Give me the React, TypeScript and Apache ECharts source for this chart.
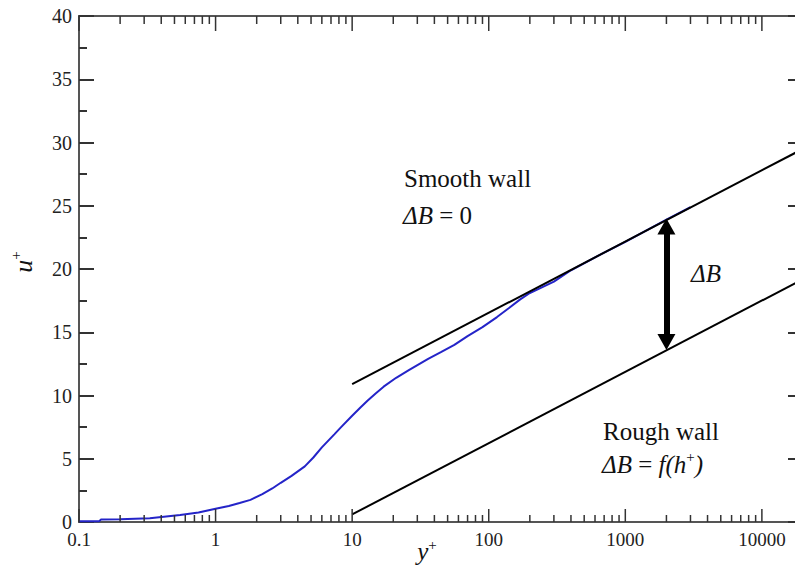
import React, { useEffect, useRef } from 'react';
import * as echarts from 'echarts';

const FONT = '"Liberation Serif", "Times New Roman", serif';

// DNS velocity profile (blue)
const profileYPlus = [0.1, 0.14, 0.145, 0.2, 0.33, 0.55, 0.75, 1, 1.25, 1.5, 1.8, 2.2, 2.6, 3, 3.6, 4.5, 5.2, 6, 7.4, 8.3, 10, 11.5, 13, 15, 17, 21, 26, 36, 45, 56, 70, 90, 115, 140, 170, 200, 300, 400, 700, 1000, 2000, 3000];
const profileUPlus = [0.05, 0.05, 0.2, 0.22, 0.3, 0.55, 0.75, 1.05, 1.27, 1.5, 1.75, 2.2, 2.65, 3.1, 3.65, 4.4, 5.1, 5.9, 6.93, 7.5, 8.4, 9.05, 9.6, 10.2, 10.7, 11.4, 12.0, 12.9, 13.45, 14.0, 14.7, 15.4, 16.2, 16.9, 17.6, 18.1, 19.0, 19.9, 21.3, 22.15, 23.9, 24.9];

// Log-law lines
const smoothWallX = [10, 20000];
const smoothWallU = [10.9, 29.5];
const roughWallX = [10, 20000];
const roughWallU = [0.6, 19.2];

// Delta-B arrow (tips)
const arrowX = 2000;
const arrowTipsU = [13.6, 24.0];

// Axis ticks
const xMajorTicks = [0.1, 1, 10, 100, 1000, 10000];
const xMajorLabels = ['0.1', '1', '10', '100', '1000', '10000'];
const xMinorMultipliers = [2, 3, 4, 5, 6, 7, 8, 9];

const GRID_LEFT = 79;
const GRID_TOP = 16;
const GRID_W = 724;
const GRID_H = 506;
const Y_MAX = 40;

export default function App() {
  const ref = useRef<HTMLDivElement>(null);

  useEffect(() => {
    if (!ref.current) return;
    const chart = echarts.init(ref.current, undefined, { renderer: 'svg' });

    const tickData: number[][] = [];
    xMajorTicks.forEach((t) => {
      tickData.push([t, 0, 1]);
      xMinorMultipliers.forEach((m) => {
        const v = t * m;
        if (v < 20000) tickData.push([v, 0, 0]);
      });
    });

    const pxPerUnit = GRID_H / Y_MAX;
    const headH = 16;
    const inset = headH / 2 / pxPerUnit;

    const yAxisCommon = {
      type: 'value',
      min: 0,
      max: Y_MAX,
      interval: 5,
      axisLine: { show: false },
      axisTick: { show: true, inside: true, length: 15, lineStyle: { color: '#333', width: 2 } },
      minorTick: { show: true, splitNumber: 2, length: 8, lineStyle: { color: '#333', width: 2 } },
      splitLine: { show: false },
      minorSplitLine: { show: false },
    };

    const supRich = { fontFamily: FONT, fontSize: 15, fill: '#111', lineHeight: 15, verticalAlign: 'top' };

    const option: any = {
      animation: false,
      backgroundColor: '#fff',
      grid: {
        left: GRID_LEFT,
        top: GRID_TOP,
        width: GRID_W,
        height: GRID_H,
        show: true,
        borderColor: '#555',
        borderWidth: 2,
        backgroundColor: 'transparent',
      },
      xAxis: [
        {
          type: 'log',
          logBase: 10,
          min: 0.1,
          max: 20000,
          axisLine: { show: false },
          axisTick: { show: false },
          splitLine: { show: false },
          axisLabel: {
            fontFamily: FONT,
            fontSize: 19,
            color: '#222',
            margin: 8,
            showMaxLabel: false,
            formatter: (v: number) => {
              for (let i = 0; i < xMajorTicks.length; i++) {
                if (Math.abs(Math.log10(v) - Math.log10(xMajorTicks[i])) < 1e-6) return xMajorLabels[i];
              }
              return '';
            },
          },
        },
      ],
      yAxis: [
        {
          ...yAxisCommon,
          position: 'left',
          axisLabel: { fontFamily: FONT, fontSize: 20, color: '#222', margin: 7 },
        },
        {
          ...yAxisCommon,
          position: 'right',
          axisLabel: { show: false },
        },
      ],
      series: [
        {
          type: 'custom',
          coordinateSystem: 'cartesian2d',
          xAxisIndex: 0,
          yAxisIndex: 0,
          silent: true,
          clip: false,
          z: 5,
          encode: { x: 0, y: 1 },
          data: tickData,
          renderItem: (params: any, api: any) => {
            const v = api.value(0);
            const major = api.value(2) === 1;
            const p = api.coord([v, 0]);
            const cs = params.coordSys;
            const bottom = cs.y + cs.height;
            const top = cs.y;
            const lenB = major ? 13 : 7;
            const lenT = major ? 15 : 8;
            const style = { stroke: '#333', lineWidth: 1.5 };
            return {
              type: 'group',
              children: [
                { type: 'line', shape: { x1: p[0], y1: bottom, x2: p[0], y2: bottom - lenB }, style },
                { type: 'line', shape: { x1: p[0], y1: top, x2: p[0], y2: top + lenT }, style },
              ],
            };
          },
        },
        {
          type: 'line',
          name: 'profile',
          data: profileYPlus.map((x, i) => [x, profileUPlus[i]]),
          showSymbol: false,
          smooth: false,
          lineStyle: { color: '#2424c8', width: 2 },
          itemStyle: { color: '#2424c8' },
          z: 2,
        },
        {
          type: 'line',
          name: 'smooth',
          data: smoothWallX.map((x, i) => [x, smoothWallU[i]]),
          showSymbol: false,
          lineStyle: { color: '#000', width: 2 },
          itemStyle: { color: '#000' },
          z: 3,
        },
        {
          type: 'line',
          name: 'rough',
          data: roughWallX.map((x, i) => [x, roughWallU[i]]),
          showSymbol: false,
          lineStyle: { color: '#000', width: 2 },
          itemStyle: { color: '#000' },
          z: 3,
          markLine: {
            silent: true,
            symbol: ['triangle', 'triangle'],
            symbolSize: [18, headH],
            label: { show: false },
            lineStyle: { color: '#000', width: 6, type: 'solid' },
            emphasis: { disabled: true },
            data: [
              [
                { coord: [arrowX, arrowTipsU[0] + inset] },
                { coord: [arrowX, arrowTipsU[1] - inset] },
              ],
            ],
          },
        },
      ],
      graphic: [
        {
          type: 'text',
          x: 404,
          y: 178,
          style: { text: 'Smooth wall', fontFamily: FONT, fontSize: 25, fill: '#111', align: 'left', verticalAlign: 'middle' },
        },
        {
          type: 'text',
          x: 403,
          y: 215,
          style: {
            text: '{i|ΔB} = 0',
            fontFamily: FONT,
            fontSize: 25,
            fill: '#111',
            align: 'left',
            verticalAlign: 'middle',
            rich: { i: { fontFamily: FONT, fontSize: 25, fontStyle: 'italic', fill: '#111' } },
          },
        },
        {
          type: 'text',
          x: 691,
          y: 273,
          style: { text: 'ΔB', fontFamily: FONT, fontSize: 25, fontStyle: 'italic', fill: '#111', align: 'left', verticalAlign: 'middle' },
        },
        {
          type: 'text',
          x: 603,
          y: 431,
          style: { text: 'Rough wall', fontFamily: FONT, fontSize: 25, fill: '#111', align: 'left', verticalAlign: 'middle' },
        },
        {
          type: 'text',
          x: 602,
          y: 464,
          style: {
            text: '{i|ΔB} = {i|f(h}{s|+}{i|)}',
            fontFamily: FONT,
            fontSize: 25,
            lineHeight: 30,
            fill: '#111',
            align: 'left',
            verticalAlign: 'middle',
            rich: {
              i: { fontFamily: FONT, fontSize: 25, fontStyle: 'italic', fill: '#111', lineHeight: 30 },
              s: supRich,
            },
          },
        },
        {
          type: 'text',
          x: 23,
          y: 262,
          rotation: Math.PI / 2,
          style: {
            text: '{i|u}{s|+}',
            fontFamily: FONT,
            fontSize: 26,
            lineHeight: 30,
            fill: '#111',
            align: 'center',
            verticalAlign: 'middle',
            rich: {
              i: { fontFamily: FONT, fontSize: 26, fontStyle: 'italic', fill: '#111', lineHeight: 30 },
              s: supRich,
            },
          },
        },
        {
          type: 'text',
          x: 427,
          y: 551,
          style: {
            text: '{i|y}{s|+}',
            fontFamily: FONT,
            fontSize: 25,
            lineHeight: 28,
            fill: '#111',
            align: 'center',
            verticalAlign: 'middle',
            rich: {
              i: { fontFamily: FONT, fontSize: 25, fontStyle: 'italic', fill: '#111', lineHeight: 28 },
              s: supRich,
            },
          },
        },
      ],
    };

    chart.setOption(option);
    return () => chart.dispose();
  }, []);

  return (
    <div style={{ position: 'absolute', left: 0, top: 0, width: 795, height: 566, overflow: 'hidden', background: '#fff' }}>
      <div ref={ref} style={{ width: 810, height: 566 }} />
    </div>
  );
}
